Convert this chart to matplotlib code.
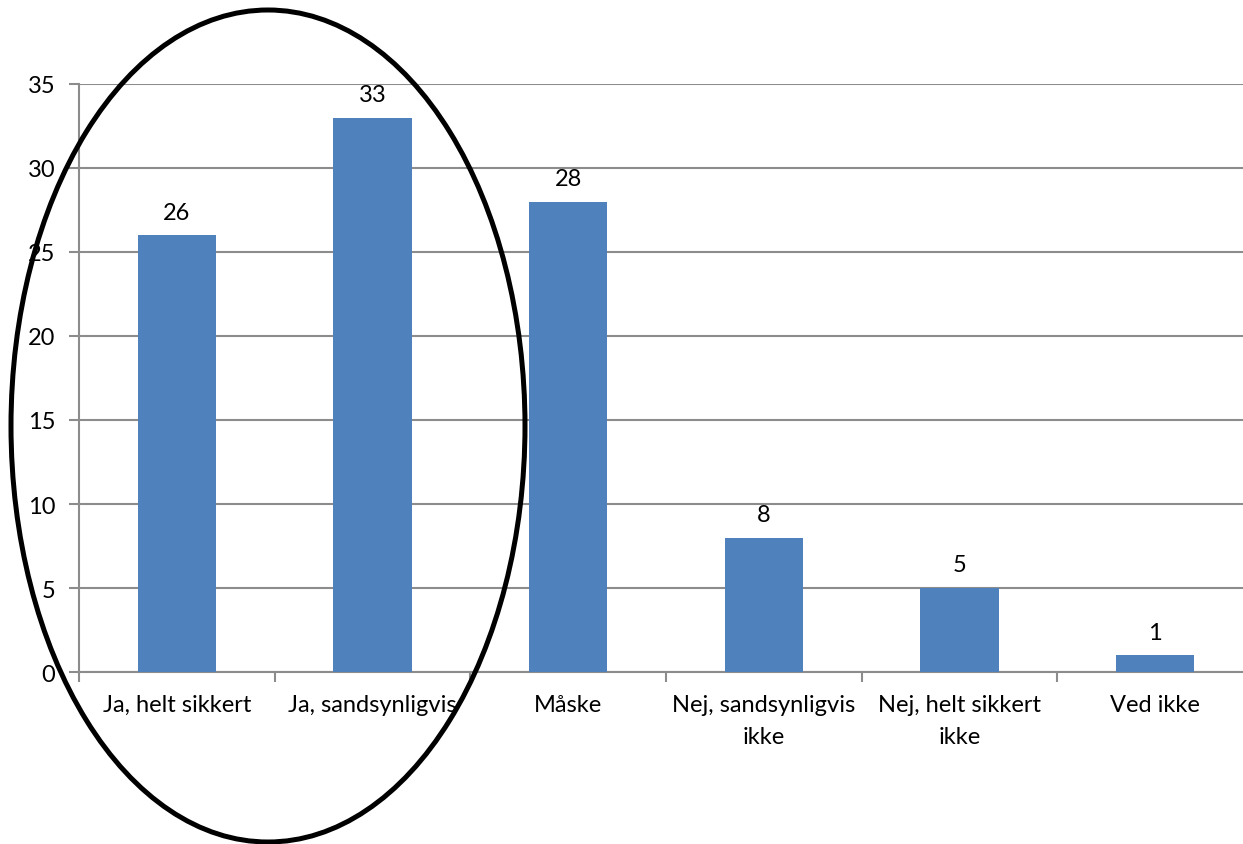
import matplotlib
matplotlib.use('Agg')
import matplotlib.pyplot as plt
from matplotlib.patches import Ellipse
import numpy as np

categories = ['Ja, helt sikkert', 'Ja, sandsynligvis', 'Måske',
              'Nej, sandsynligvis\nikke', 'Nej, helt sikkert\nikke', 'Ved ikke']
values = [26, 33, 28, 8, 5, 1]
y_ticks = [0, 5, 10, 15, 20, 25, 30, 35]

bar_color = '#4F81BD'
grid_color = '#8C8C8C'

plt.rcParams['font.family'] = ['Lato', 'DejaVu Sans']

fig = plt.figure(figsize=(12.43, 8.45), dpi=100)
W, H = 1243, 845
ax = fig.add_axes([79 / W, 1 - 673 / H, (1253 - 79) / W, (673 - 85) / H])

x = np.arange(len(categories))
ax.bar(x, values, width=0.4, color=bar_color, zorder=3)
for xi, v in zip(x, values):
    ax.annotate(str(v), (xi, v), xytext=(0, 9), textcoords='offset points',
                ha='center', va='bottom', fontsize=17, color='black')

ax.set_xlim(-0.5, len(categories) - 0.5)
ax.set_ylim(0, 35)
ax.set_yticks(y_ticks)
ax.set_yticklabels([str(t) for t in y_ticks], fontsize=17)
ax.yaxis.grid(True, color=grid_color, linewidth=1.5, zorder=0)
ax.set_axisbelow(True)

# category ticks sit between bars, labels at bar centres
ax.set_xticks(np.arange(len(categories) + 1) - 0.5)
ax.set_xticklabels([])
ax.set_xticks(x, minor=True)
ax.set_xticklabels(categories, minor=True, fontsize=17, linespacing=1.65)
ax.tick_params(axis='x', which='minor', length=0, pad=16)
ax.tick_params(axis='x', which='major', length=7, width=1.5, color=grid_color)
ax.tick_params(axis='y', length=7, width=1.5, color=grid_color, pad=10)

for side in ['top', 'right']:
    ax.spines[side].set_visible(False)
for side in ['left', 'bottom']:
    ax.spines[side].set_color(grid_color)
    ax.spines[side].set_linewidth(1.5)

# ring around the two "Ja" answers
ring = Ellipse((268 / W, 1 - 427 / H), 514 / W, 832 / H, transform=fig.transFigure,
               fill=False, edgecolor='black', linewidth=3.6, zorder=10)
fig.patches.append(ring)

fig.savefig('out.png', dpi=100, facecolor='white')
